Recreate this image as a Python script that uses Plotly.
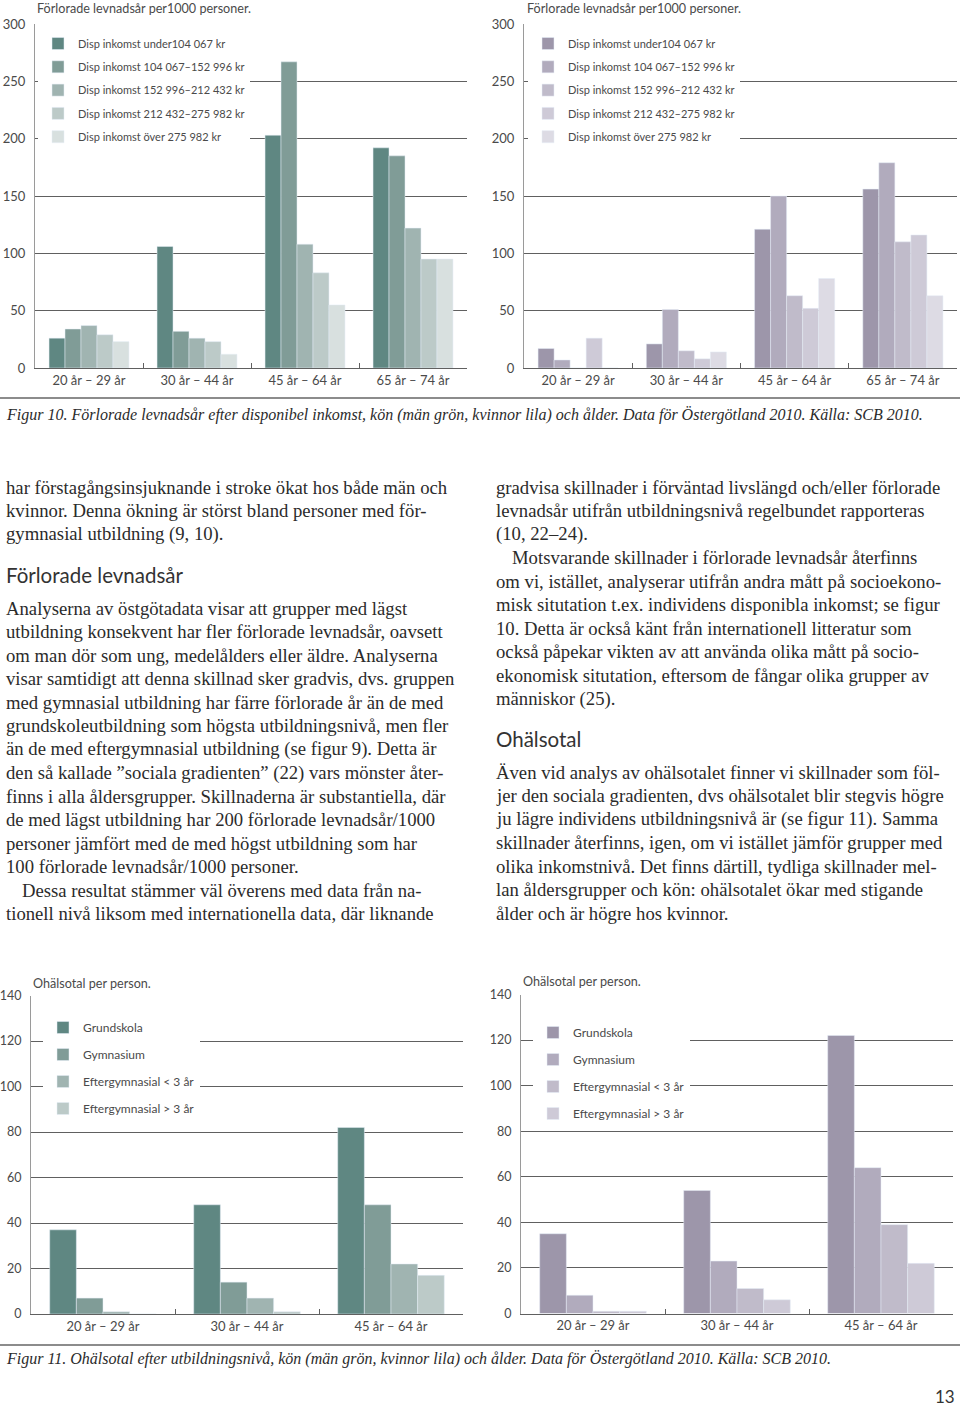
import plotly.graph_objects as go

W, H = 960, 1408

# ---------------- DATA ----------------
age_groups_top = ["20 år – 29 år", "30 år – 44 år", "45 år – 64 år", "65 år – 74 år"]
income_labels = [
    "Disp inkomst under104 067 kr",
    "Disp inkomst 104 067–152 996 kr",
    "Disp inkomst 152 996–212 432 kr",
    "Disp inkomst 212 432–275 982 kr",
    "Disp inkomst över 275 982 kr",
]
# Figur 10, men (green)
men_inc_under104 = [26, 106, 203, 192]
men_inc_104_153 = [34, 32, 267, 185]
men_inc_153_212 = [37, 26, 108, 122]
men_inc_212_276 = [29, 23, 83, 95]
men_inc_over276 = [23, 12, 55, 95]
# Figur 10, women (purple)
women_inc_under104 = [17, 21, 121, 156]
women_inc_104_153 = [7, 51, 150, 179]
women_inc_153_212 = [0, 15, 63, 110]
women_inc_212_276 = [26, 8, 52, 116]
women_inc_over276 = [0, 14, 78, 63]

age_groups_bottom = ["20 år – 29 år", "30 år – 44 år", "45 år – 64 år"]
edu_labels = ["Grundskola", "Gymnasium", "Eftergymnasial < 3 år", "Eftergymnasial > 3 år"]
# Figur 11, men (green)
men_edu_grundskola = [37, 48, 82]
men_edu_gymnasium = [7, 14, 48]
men_edu_efterg_lt3 = [1, 7, 22]
men_edu_efterg_gt3 = [0, 1, 17]
# Figur 11, women (purple)
women_edu_grundskola = [35, 54, 122]
women_edu_gymnasium = [8, 23, 64]
women_edu_efterg_lt3 = [1, 11, 39]
women_edu_efterg_gt3 = [1, 6, 22]

# ---------------- STYLE ----------------
green5 = ["#5f8782", "#809c97", "#a0b4b1", "#bccac8", "#d8e0df"]
purple5 = ["#9d96aa", "#b1abbd", "#c0bbca", "#cecad7", "#dddbe4"]
green4 = green5[:4]
purple4 = purple5[:4]

SANS = "Lato, 'Open Sans', sans-serif"
SERIF = "'Liberation Serif', 'DejaVu Serif', serif"
CHART_TXT = "#4a4a4a"
BODY_TXT = "#2b2b2b"
GRID = "#606060"


def px(x):
    return x / W


def py(y):
    return 1 - y / H


fig = go.Figure()

top_men = [men_inc_under104, men_inc_104_153, men_inc_153_212, men_inc_212_276, men_inc_over276]
top_women = [women_inc_under104, women_inc_104_153, women_inc_153_212, women_inc_212_276, women_inc_over276]
bot_men = [men_edu_grundskola, men_edu_gymnasium, men_edu_efterg_lt3, men_edu_efterg_gt3]
bot_women = [women_edu_grundskola, women_edu_gymnasium, women_edu_efterg_lt3, women_edu_efterg_gt3]

for i, (name, vals) in enumerate(zip(income_labels, top_men)):
    fig.add_trace(go.Bar(x=age_groups_top, y=vals, name=name, marker_color=green5[i],
                         xaxis="x", yaxis="y", legend="legend", legendgroup=f"a{i}"))
for i, (name, vals) in enumerate(zip(income_labels, top_women)):
    fig.add_trace(go.Bar(x=age_groups_top, y=vals, name=name, marker_color=purple5[i],
                         xaxis="x2", yaxis="y2", legend="legend2", legendgroup=f"b{i}"))
for i, (name, vals) in enumerate(zip(edu_labels, bot_men)):
    fig.add_trace(go.Bar(x=age_groups_bottom, y=vals, name=name, marker_color=green4[i],
                         xaxis="x3", yaxis="y3", legend="legend3", legendgroup=f"c{i}"))
for i, (name, vals) in enumerate(zip(edu_labels, bot_women)):
    fig.add_trace(go.Bar(x=age_groups_bottom, y=vals, name=name, marker_color=purple4[i],
                         xaxis="x4", yaxis="y4", legend="legend4", legendgroup=f"d{i}"))


def xax(domain, anchor):
    return dict(domain=domain, anchor=anchor, type="category", showline=True,
                linecolor=GRID, linewidth=1, ticks="inside", tickson="boundaries",
                ticklen=5, tickcolor=GRID, showgrid=False, fixedrange=True,
                automargin=False,
                tickfont=dict(family=SANS, size=13, color=CHART_TXT))


def yax(domain, anchor, rng, dtick, standoff, size):
    return dict(domain=domain, anchor=anchor, range=rng, dtick=dtick, showgrid=True,
                gridcolor=GRID, gridwidth=1, showline=True, linecolor="#9a9a9a",
                linewidth=1, zeroline=False, ticks="", fixedrange=True,
                automargin=False, ticklabelstandoff=standoff,
                tickfont=dict(family=SANS, size=size, color=CHART_TXT))


top_y = [py(368), py(24)]
fig.update_layout(
    xaxis=xax([px(35), px(467)], "y"),
    yaxis=yax(top_y, "x", [0, 300], 50, 6, 13),
    xaxis2=xax([px(524), px(957)], "y2"),
    yaxis2=yax(top_y, "x2", [0, 300], 50, 6, 13),
    xaxis3=xax([px(31), px(463)], "y3"),
    yaxis3=yax([py(1314), py(995.5)], "x3", [0, 140], 20, 6, 12.5),
    xaxis4=xax([px(521), px(953)], "y4"),
    yaxis4=yax([py(1313.5), py(994.5)], "x4", [0, 140], 20, 6, 12.5),
)

leg_common = dict(bgcolor="white", borderwidth=0, xanchor="left", yanchor="top",
                  itemclick=False, itemdoubleclick=False)
fig.update_layout(
    legend=dict(x=px(38), y=py(29), tracegroupgap=4.3,
                font=dict(family=SANS, size=11, color=CHART_TXT), **leg_common),
    legend2=dict(x=px(528), y=py(29), tracegroupgap=4.3,
                 font=dict(family=SANS, size=11, color=CHART_TXT), **leg_common),
    legend3=dict(x=px(43), y=py(1013), tracegroupgap=8,
                 font=dict(family=SANS, size=12, color=CHART_TXT), **leg_common),
    legend4=dict(x=px(533), y=py(1018), tracegroupgap=8,
                 font=dict(family=SANS, size=12, color=CHART_TXT), **leg_common),
)

fig.update_layout(
    width=W, height=H, margin=dict(l=0, r=0, t=0, b=0, pad=0, autoexpand=False),
    paper_bgcolor="white", plot_bgcolor="white",
    barmode="group", bargap=0.26,
)

annotations = []


def txt(x, y, s, size, family, color, anchor="left", italic=False):
    annotations.append(dict(
        xref="paper", yref="paper", x=px(x), y=py(y), text=s, showarrow=False,
        xanchor=anchor, yanchor="middle",
        font=dict(family=family, size=size, color=color,
                  style="italic" if italic else "normal"),
    ))


# chart titles
txt(35, 9, "Förlorade levnadsår per1000 personer.", 12.6, SANS, CHART_TXT)
txt(525, 9, "Förlorade levnadsår per1000 personer.", 12.6, SANS, CHART_TXT)
txt(31, 983, "Ohälsotal per person.", 12.6, SANS, CHART_TXT)
txt(521, 982, "Ohälsotal per person.", 12.6, SANS, CHART_TXT)

# captions
txt(4, 415, "Figur 10. Förlorade levnadsår efter disponibel inkomst, kön (män grön, kvinnor lila) och ålder. "
            "Data för Östergötland 2010. Källa: SCB 2010.", 16, SERIF, BODY_TXT, italic=True)
txt(4, 1359, "Figur 11. Ohälsotal efter utbildningsnivå, kön (män grön, kvinnor lila) och ålder. "
             "Data för Östergötland 2010. Källa: SCB 2010.", 16, SERIF, BODY_TXT, italic=True)

LS = 23.5
BODY = 18.7
left_lines = [
    (4, "har förstagångsinsjuknande i stroke ökat hos både män och"),
    (4, "kvinnor. Denna ökning är störst bland personer med för-"),
    (4, "gymnasial utbildning (9, 10)."),
]
for k, (x, s) in enumerate(left_lines):
    txt(x, 487 + k * LS, s, BODY, SERIF, BODY_TXT)
txt(4, 575, "Förlorade levnadsår", 20.5, SANS, "#333333")
left_lines2 = [
    (4, "Analyserna av östgötadata visar att grupper med lägst"),
    (4, "utbildning konsekvent har fler förlorade levnadsår, oavsett"),
    (4, "om man dör som ung, medelålders eller äldre. Analyserna"),
    (4, "visar samtidigt att denna skillnad sker gradvis, dvs. gruppen"),
    (4, "med gymnasial utbildning har färre förlorade år än de med"),
    (4, "grundskoleutbildning som högsta utbildningsnivå, men fler"),
    (4, "än de med eftergymnasial utbildning (se figur 9). Detta är"),
    (4, "den så kallade ”sociala gradienten” (22) vars mönster åter-"),
    (4, "finns i alla åldersgrupper. Skillnaderna är substantiella, där"),
    (4, "de med lägst utbildning har 200 förlorade levnadsår/1000"),
    (4, "personer jämfört med de med högst utbildning som har"),
    (4, "100 förlorade levnadsår/1000 personer."),
    (20, "Dessa resultat stämmer väl överens med data från na-"),
    (4, "tionell nivå liksom med internationella data, där liknande"),
]
for k, (x, s) in enumerate(left_lines2):
    txt(x, 608 + k * LS, s, BODY, SERIF, BODY_TXT)

right_lines = [
    (494, "gradvisa skillnader i förväntad livslängd och/eller förlorade"),
    (494, "levnadsår utifrån utbildningsnivå regelbundet rapporteras"),
    (494, "(10, 22–24)."),
    (510, "Motsvarande skillnader i förlorade levnadsår återfinns"),
    (494, "om vi, istället, analyserar utifrån andra mått på socioekono-"),
    (494, "misk situtation t.ex. individens disponibla inkomst; se figur"),
    (494, "10. Detta är också känt från internationell litteratur som"),
    (494, "också påpekar vikten av att använda olika mått på socio-"),
    (494, "ekonomisk situtation, eftersom de fångar olika grupper av"),
    (494, "människor (25)."),
]
for k, (x, s) in enumerate(right_lines):
    txt(x, 487 + k * LS, s, BODY, SERIF, BODY_TXT)
txt(494, 739, "Ohälsotal", 20.5, SANS, "#333333")
right_lines2 = [
    (494, "Även vid analys av ohälsotalet finner vi skillnader som föl-"),
    (494, "jer den sociala gradienten, dvs ohälsotalet blir stegvis högre"),
    (494, "ju lägre individens utbildningsnivå är (se figur 11). Samma"),
    (494, "skillnader återfinns, igen, om vi istället jämför grupper med"),
    (494, "olika inkomstnivå. Det finns därtill, tydliga skillnader mel-"),
    (494, "lan åldersgrupper och kön: ohälsotalet ökar med stigande"),
    (494, "ålder och är högre hos kvinnor."),
]
for k, (x, s) in enumerate(right_lines2):
    txt(x, 772 + k * LS, s, BODY, SERIF, BODY_TXT)

txt(945, 1396, "13", 17, SANS, "#333333", anchor="center")

fig.update_layout(annotations=annotations)

# separator rules above the captions
fig.update_layout(shapes=[
    dict(type="line", xref="paper", yref="paper", x0=0, x1=1, y0=py(398), y1=py(398),
         line=dict(color="#8c8c8c", width=2)),
    dict(type="line", xref="paper", yref="paper", x0=0, x1=1, y0=py(1345), y1=py(1345),
         line=dict(color="#8c8c8c", width=2)),
])

fig.write_html(
    "out.html",
    config={"displayModeBar": False},
    post_script="document.body.style.margin='0';document.body.style.padding='0';",
)
